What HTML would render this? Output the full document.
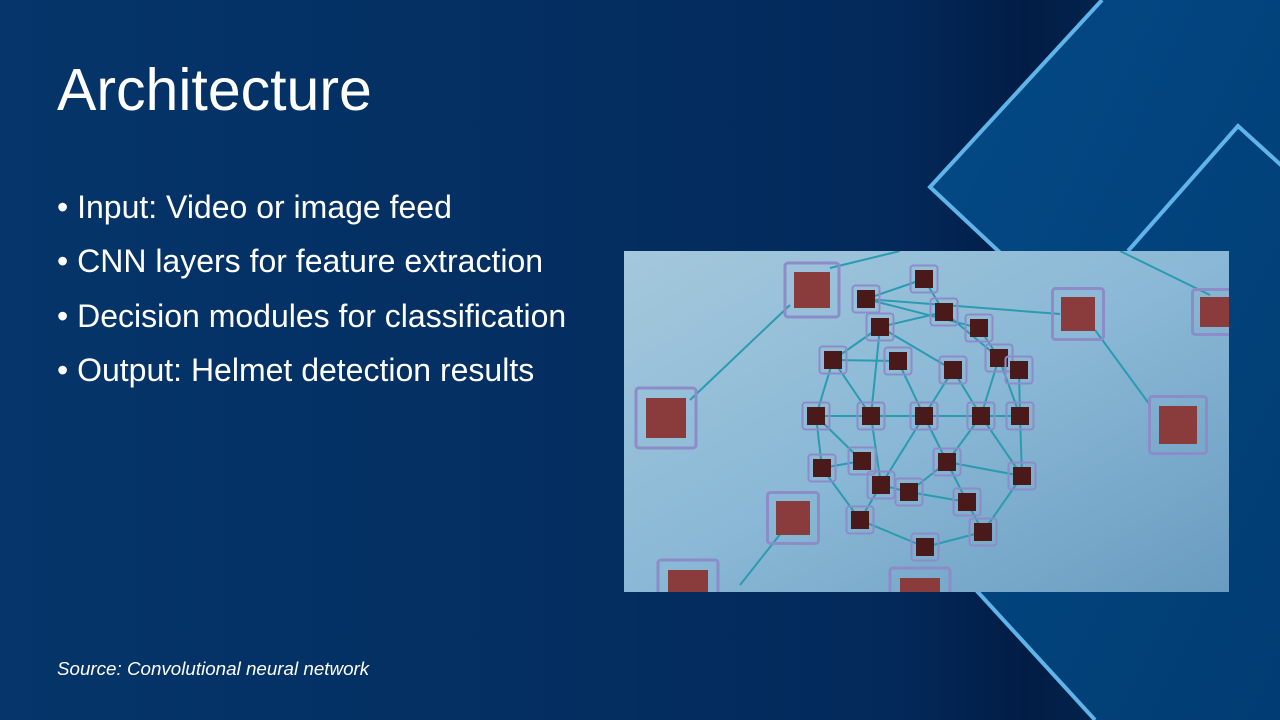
<!DOCTYPE html>
<html><head><meta charset="utf-8"><style>
html,body{margin:0;padding:0;}
body{width:1280px;height:720px;overflow:hidden;position:relative;font-family:"Liberation Sans",sans-serif;
background:linear-gradient(90deg,#05356a 0%,#042f62 40%,#03295a 70%,#021d45 80%,#03305f 100%);}
h1{position:absolute;left:57px;top:56px;margin:0;font-weight:normal;font-size:59px;color:#fff;}
ul{position:absolute;left:57px;top:186px;margin:0;padding:0;list-style:none;color:#fff;font-size:32px;}
li{height:54.3px;line-height:42px;}
.src{position:absolute;left:57px;top:658px;color:#fff;font-style:italic;font-size:18.8px;}
svg{position:absolute;left:0;top:0;}
</style></head><body>
<svg width="1280" height="720">
<defs>
<linearGradient id="dg" x1="0" y1="0" x2="1" y2="1"><stop offset="0" stop-color="#034a86"/><stop offset="1" stop-color="#023c73"/></linearGradient>
<linearGradient id="ig" x1="0" y1="0" x2="1" y2="1"><stop offset="0" stop-color="#a4c8dc"/><stop offset="0.5" stop-color="#8ab8d6"/><stop offset="1" stop-color="#6a9cc0"/></linearGradient>
<clipPath id="cp"><rect x="624" y="251" width="605" height="341"/></clipPath>
</defs>
<polygon points="1100,0 1280,0 1280,720 1095,720 960,572 1010,262 930,187" fill="url(#dg)"/>
<polyline points="1102,0 930,187 1010,262" fill="none" stroke="#5fb4ea" stroke-width="4"/>
<polyline points="1128,251 1238,126 1282,166" fill="none" stroke="#5fb4ea" stroke-width="4"/>
<line x1="976" y1="590" x2="1095" y2="720" stroke="#5fb4ea" stroke-width="4"/>
<rect x="624" y="251" width="605" height="341" fill="url(#ig)"/>
<g clip-path="url(#cp)">
<g stroke="#2a9bb0" stroke-width="2" fill="none">
<line x1="690" y1="400" x2="790" y2="305"/><line x1="740" y1="585" x2="793" y2="518"/>
<line x1="830" y1="268" x2="900" y2="251"/><line x1="1120" y1="251" x2="1210" y2="295"/>
<line x1="1095" y1="330" x2="1150" y2="405"/><line x1="866" y1="299" x2="1060" y2="314"/>
<line x1="866" y1="299" x2="924" y2="279"/><line x1="924" y1="279" x2="944" y2="312"/><line x1="880" y1="327" x2="944" y2="312"/>
<line x1="866" y1="299" x2="979" y2="328"/><line x1="880" y1="327" x2="833" y2="360"/><line x1="880" y1="327" x2="953" y2="370"/>
<line x1="944" y1="312" x2="999" y2="358"/><line x1="979" y1="328" x2="999" y2="358"/><line x1="833" y1="360" x2="898" y2="361"/>
<line x1="833" y1="360" x2="816" y2="416"/><line x1="833" y1="360" x2="871" y2="416"/><line x1="880" y1="327" x2="871" y2="416"/>
<line x1="898" y1="361" x2="924" y2="416"/><line x1="953" y1="370" x2="924" y2="416"/><line x1="953" y1="370" x2="981" y2="416"/>
<line x1="999" y1="358" x2="981" y2="416"/><line x1="999" y1="358" x2="1020" y2="416"/><line x1="1019" y1="370" x2="1020" y2="416"/>
<line x1="816" y1="416" x2="1020" y2="416"/><line x1="816" y1="416" x2="822" y2="468"/><line x1="816" y1="416" x2="862" y2="461"/>
<line x1="871" y1="416" x2="881" y2="485"/><line x1="924" y1="416" x2="881" y2="485"/><line x1="924" y1="416" x2="947" y2="462"/>
<line x1="981" y1="416" x2="947" y2="462"/><line x1="981" y1="416" x2="1022" y2="476"/><line x1="1020" y1="416" x2="1022" y2="476"/>
<line x1="822" y1="468" x2="862" y2="461"/><line x1="822" y1="468" x2="860" y2="520"/><line x1="881" y1="485" x2="909" y2="492"/>
<line x1="947" y1="462" x2="1022" y2="476"/><line x1="947" y1="462" x2="967" y2="502"/><line x1="909" y1="492" x2="967" y2="502"/>
<line x1="881" y1="485" x2="860" y2="520"/><line x1="860" y1="520" x2="925" y2="547"/><line x1="925" y1="547" x2="983" y2="532"/>
<line x1="967" y1="502" x2="983" y2="532"/><line x1="1022" y1="476" x2="983" y2="532"/><line x1="909" y1="492" x2="947" y2="462"/>
</g>
<g id="nodes"></g>
</g>
</svg>
<script>
var big=[[812,290,36],[666,418,40],[793,518,34],[1078,314,34],[1178,425,38],[1215,312,30],[688,590,40],[920,598,40]];
var sm=[[866,299],[924,279],[880,327],[944,312],[979,328],[833,360],[898,361],[953,370],[999,358],[1019,370],[816,416],[871,416],[924,416],[981,416],[1020,416],[822,468],[862,461],[881,485],[947,462],[909,492],[1022,476],[967,502],[860,520],[983,532],[925,547]];
var g=document.getElementById('nodes'),s='';
function n(x,y,w,b){var o=w*0.75;s+='<rect x="'+(x-o)+'" y="'+(y-o)+'" width="'+(2*o)+'" height="'+(2*o)+'" rx="3" fill="none" stroke="#8c8cc8" stroke-width="'+(b?3:2)+'"/>';
s+='<rect x="'+(x-w/2)+'" y="'+(y-w/2)+'" width="'+w+'" height="'+w+'" fill="'+(b?'#8a3c3c':'#4a1a1a')+'"/>';}
sm.forEach(function(p){n(p[0],p[1],18,0)});big.forEach(function(p){n(p[0],p[1],p[2],1)});
g.innerHTML=s;
</script>
<h1>Architecture</h1>
<ul>
<li>• Input: Video or image feed</li>
<li>• CNN layers for feature extraction</li>
<li>• Decision modules for classification</li>
<li>• Output: Helmet detection results</li>
</ul>
<div class="src">Source: Convolutional neural network</div>
</body></html>
